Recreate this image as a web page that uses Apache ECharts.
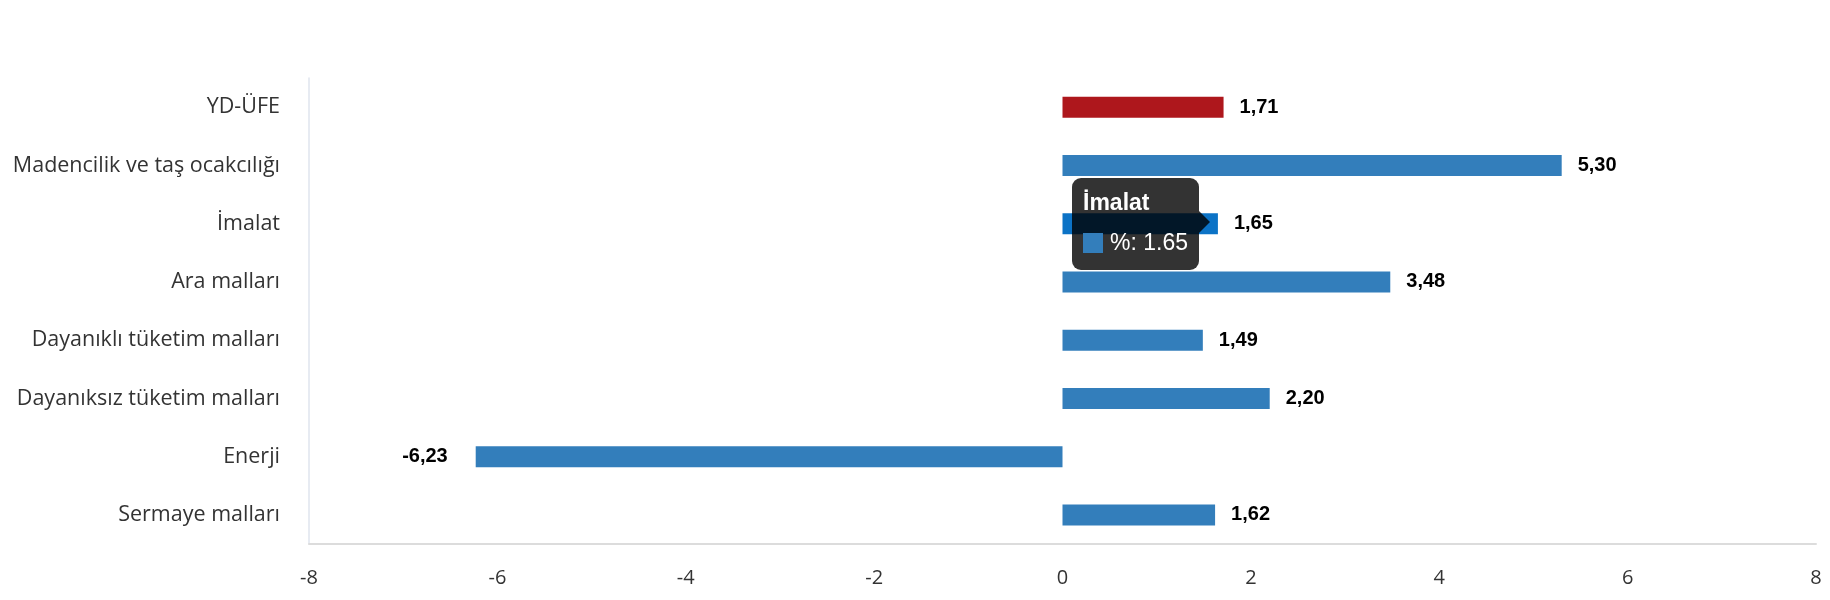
<!DOCTYPE html>
<html>
<head>
<meta charset="utf-8">
<script src="https://cdn.jsdelivr.net/npm/echarts@6/dist/echarts.min.js"></script>
<style>
  html, body { margin: 0; padding: 0; background: #fff; }
  #main { width: 1830px; height: 600px; }
</style>
</head>
<body>
<div id="main"></div>
<script>
const categories = [
  "YD-ÜFE",
  "Madencilik ve taş ocakcılığı",
  "İmalat",
  "Ara malları",
  "Dayanıklı tüketim malları",
  "Dayanıksız tüketim malları",
  "Enerji",
  "Sermaye malları"
];
const values = [1.71, 5.30, 1.65, 3.48, 1.49, 2.20, -6.23, 1.62];
const xTicks = [-8, -6, -4, -2, 0, 2, 4, 6, 8];

const blue = "#337ebb";
const red = "#ae171c";
const hoverBlue = "#0c73c6";
const hoverIndex = 2;

const chart = echarts.init(document.getElementById("main"));

const seriesData = values.map(function (v, i) {
  const item = { value: v, itemStyle: { color: i === 0 ? red : (i === hoverIndex ? hoverBlue : blue) } };
  if (v < 0) {
    item.label = { position: "left", distance: 28 };
  }
  return item;
});

const option = {
  animation: false,
  grid: { left: 309, right: 14, top: 78, bottom: 56, containLabel: false },
  tooltip: {
    trigger: "item",
    triggerOn: "none",
    alwaysShowContent: true,
    transitionDuration: 0,
    backgroundColor: "rgba(0,0,0,0.8)",
    borderWidth: 0,
    padding: [10, 11, 13, 11],
    extraCssText: "border-radius:9px;box-shadow:none;overflow:visible;",
    position: function () {
      return [1072, 178];
    },
    formatter: function (p) {
      return '<div style="position:relative;font-family:Arial,\'Liberation Sans\',sans-serif;color:#fff;">' +
        '<div style="font-weight:bold;font-size:23px;line-height:28px;">' + p.name + '</div>' +
        '<div style="font-size:23px;line-height:30px;margin-top:11px;white-space:nowrap;">' +
        '<span style="display:inline-block;width:20px;height:20px;background:' + blue + ';vertical-align:-3px;margin-right:7px;"></span>' +
        '%: ' + p.value + '</div>' +
        '<div style="position:absolute;right:-22px;top:23px;width:0;height:0;border-top:11px solid transparent;border-bottom:11px solid transparent;border-left:11px solid rgba(0,0,0,0.8);"></div>' +
        '</div>';
    }
  },
  xAxis: {
    type: "value",
    min: -8,
    max: 8,
    interval: 2,
    splitLine: { show: false },
    axisTick: { show: false },
    axisLine: { show: true, onZero: false, lineStyle: { color: "#dcdcdc", width: 2 } },
    axisLabel: {
      color: "#333",
      fontSize: 20,
      fontFamily: "Open Sans",
      margin: 24,
      formatter: function (v) { return xTicks.indexOf(v) >= 0 ? String(v) : ""; }
    }
  },
  yAxis: {
    type: "category",
    data: categories,
    inverse: true,
    axisTick: { show: false },
    axisLine: { show: true, onZero: false, lineStyle: { color: "#dfe4ee", width: 1.5 } },
    axisLabel: {
      color: "#333",
      fontSize: 21.5,
      fontFamily: "Open Sans",
      margin: 29
    }
  },
  series: [
    {
      name: "%",
      type: "bar",
      barWidth: 21,
      data: seriesData,
      label: {
        show: true,
        position: "right",
        distance: 16,
        color: "#000",
        fontWeight: "bold",
        fontSize: 20,
        fontFamily: "Arial, 'Liberation Sans', sans-serif",
        formatter: function (p) { return p.value.toFixed(2).replace(".", ","); }
      }
    }
  ]
};

chart.setOption(option);
chart.dispatchAction({ type: "showTip", seriesIndex: 0, dataIndex: hoverIndex });
</script>
</body>
</html>
